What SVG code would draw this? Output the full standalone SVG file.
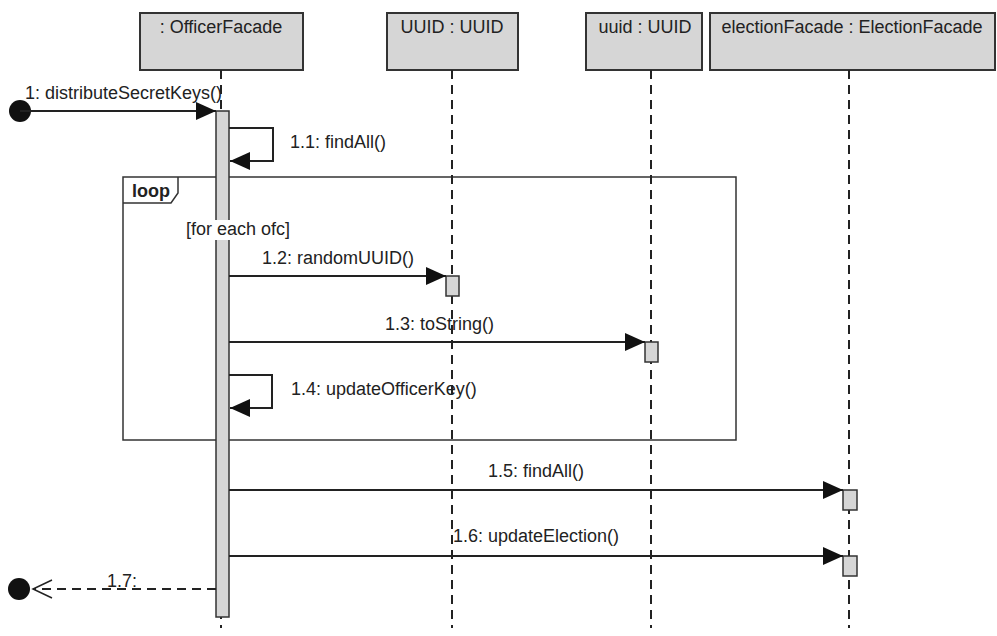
<svg xmlns="http://www.w3.org/2000/svg" width="997" height="636" viewBox="0 0 997 636">
<style>
.box{fill:#d6d6d6;stroke:#333;stroke-width:2}
.act{fill:#d6d6d6;stroke:#333;stroke-width:1.5}
.life{stroke:#222;stroke-width:2;stroke-dasharray:9,6;fill:none}
.msg{stroke:#222;stroke-width:2;fill:none}
.ret{stroke:#222;stroke-width:2;fill:none;stroke-dasharray:9,6}
text{font-family:"Liberation Sans",Arial,sans-serif;font-size:18px;fill:#222}
.frame{fill:none;stroke:#333;stroke-width:1.5}
</style>
<defs>
<marker id="fill" markerWidth="20" markerHeight="18" refX="20" refY="9" orient="auto" markerUnits="userSpaceOnUse">
<path d="M0,0 L20,9 L0,18 Z" fill="#111"/>
</marker>
<marker id="open" markerWidth="22" markerHeight="22" refX="20" refY="10" orient="auto" markerUnits="userSpaceOnUse">
<path d="M1,1 L20,10 L1,19" fill="none" stroke="#222" stroke-width="1.5"/>
</marker>
</defs>
<g id="frame-loop">
<rect class="frame" x="123" y="177" width="613" height="263"/>
<path class="frame" d="M123,203 L171,203 L178,193 L178,177" fill="#fff"/>
<text x="132" y="197" font-weight="bold">loop</text>
</g>
<g id="officerFacade">
<rect class="box" x="140" y="13" width="163" height="57"/>
<text x="221" y="33" text-anchor="middle">: OfficerFacade</text>
<line class="life" x1="221" y1="70" x2="221" y2="628"/>
<rect class="act" x="216" y="111" width="13" height="506"/>
</g>
<g id="uuidClass">
<rect class="box" x="387" y="13" width="131" height="57"/>
<text x="452" y="33" text-anchor="middle">UUID : UUID</text>
<line class="life" x1="452" y1="70" x2="452" y2="628"/>
<rect class="act" x="446" y="276" width="13" height="20"/>
</g>
<g id="uuidObj">
<rect class="box" x="586" y="13" width="116" height="57"/>
<text x="645" y="33" text-anchor="middle">uuid : UUID</text>
<line class="life" x1="651" y1="70" x2="651" y2="628"/>
<rect class="act" x="645" y="342" width="13" height="20"/>
</g>
<g id="electionFacade">
<rect class="box" x="710" y="13" width="285" height="57"/>
<text x="852" y="33" text-anchor="middle">electionFacade : ElectionFacade</text>
<line class="life" x1="849" y1="70" x2="849" y2="628"/>
<rect class="act" x="843" y="490" width="14" height="20"/>
<rect class="act" x="843" y="556" width="14" height="20"/>
</g>
<g id="guard">
<rect x="184" y="220" width="112" height="20" fill="#fff"/>
<text x="186" y="235">[for each ofc]</text>
</g>
<g id="connectors">
<circle cx="20" cy="111" r="11" fill="#111"/>
<line class="msg" x1="20" y1="111" x2="216" y2="111" marker-end="url(#fill)"/>
<text x="25" y="99">1: distributeSecretKeys()</text>
<path class="msg" d="M229,128 L273,128 L273,161 L230,161" marker-end="url(#fill)"/>
<text x="290" y="148">1.1: findAll()</text>
<line class="msg" x1="229" y1="276" x2="446" y2="276" marker-end="url(#fill)"/>
<text x="262" y="264">1.2: randomUUID()</text>
<line class="msg" x1="229" y1="342" x2="645" y2="342" marker-end="url(#fill)"/>
<text x="385" y="330">1.3: toString()</text>
<path class="msg" d="M229,375 L272,375 L272,408 L230,408" marker-end="url(#fill)"/>
<text x="291" y="395">1.4: updateOfficerKey()</text>
<line class="msg" x1="229" y1="490" x2="843" y2="490" marker-end="url(#fill)"/>
<text x="488" y="477">1.5: findAll()</text>
<line class="msg" x1="229" y1="556" x2="843" y2="556" marker-end="url(#fill)"/>
<text x="453" y="542">1.6: updateElection()</text>
<line class="ret" x1="216" y1="589" x2="33" y2="589" marker-end="url(#open)"/>
<circle cx="19" cy="589" r="11" fill="#111"/>
<text x="107" y="587">1.7:</text>
</g>
</svg>
